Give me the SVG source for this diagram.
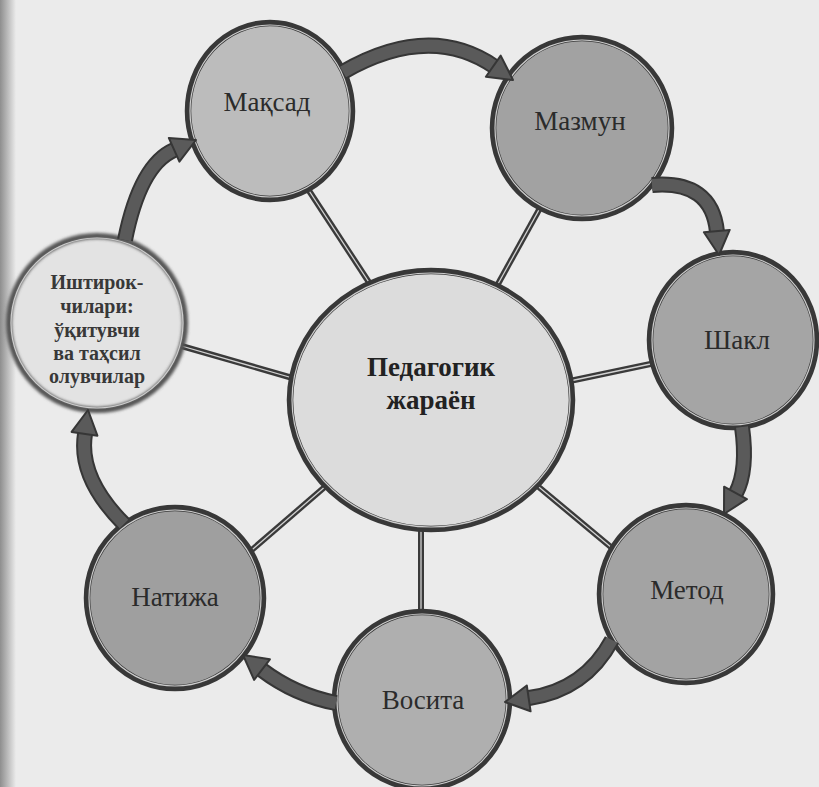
<svg xmlns="http://www.w3.org/2000/svg" width="819" height="787" viewBox="0 0 819 787">
<defs>
<linearGradient id="edge" x1="0" y1="0" x2="1" y2="0">
<stop offset="0" stop-color="#8e8e8e"/>
<stop offset="1" stop-color="#ebebeb"/>
</linearGradient>
<filter id="soft" x="-10%" y="-10%" width="120%" height="120%"><feGaussianBlur stdDeviation="1.6"/></filter>
<style>
.bg{fill:#ebebeb}
.ring{stroke:#383838;stroke-width:6.5}
.ringhi{fill:none;stroke:#cdcdcd;stroke-width:1.2}
.spoke{stroke:#3a3a3a;stroke-width:6;stroke-linecap:butt}
.spokehi{stroke:#d2d2d2;stroke-width:1.3}
.band{fill:none;stroke:#363636;stroke-width:16}
.bandin{fill:none;stroke:#5a5a5a;stroke-width:12}
.head{fill:#5a5a5a;stroke:#363636;stroke-width:2;stroke-linejoin:round}
.lbl{font-family:"Liberation Serif","Times New Roman",serif;font-size:27px;fill:#2b2b2b;text-anchor:middle}
.bold{font-weight:bold;fill:#222}
.small{font-family:"Liberation Serif","Times New Roman",serif;font-size:20px;font-weight:bold;fill:#383838;text-anchor:middle}
</style>
</defs>
<rect class="bg" x="0" y="0" width="819" height="787"/>
<rect x="0" y="0" width="16" height="787" fill="url(#edge)"/>

<g id="connectors">
<g id="spokes">
<line class="spoke" x1="302" y1="180" x2="374" y2="290"/>
<line class="spoke" x1="545" y1="199" x2="493" y2="293"/>
<line class="spoke" x1="565" y1="382" x2="660" y2="362"/>
<line class="spoke" x1="534" y1="483" x2="618" y2="553"/>
<line class="spoke" x1="421" y1="528" x2="421" y2="616"/>
<line class="spoke" x1="327" y1="485" x2="246" y2="555"/>
<line class="spoke" x1="178" y1="345" x2="296" y2="379"/>
<line class="spokehi" x1="302" y1="180" x2="374" y2="290"/>
<line class="spokehi" x1="545" y1="199" x2="493" y2="293"/>
<line class="spokehi" x1="565" y1="382" x2="660" y2="362"/>
<line class="spokehi" x1="534" y1="483" x2="618" y2="553"/>
<line class="spokehi" x1="421" y1="528" x2="421" y2="616"/>
<line class="spokehi" x1="327" y1="485" x2="246" y2="555"/>
<line class="spokehi" x1="178" y1="345" x2="296" y2="379"/>
</g>
</g>

<g id="center">
<ellipse cx="431" cy="400" rx="141" ry="129" fill="#dcdcdc" class="ring"/>
<ellipse class="ringhi" cx="431" cy="400" rx="139" ry="127"/>
<text class="lbl bold" x="431" y="376">Педагогик</text>
<text class="lbl bold" x="431" y="409">жараён</text>
</g>

<g id="maqsad">
<ellipse cx="270" cy="111" rx="82" ry="88" fill="#bcbcbc" class="ring"/>
<ellipse class="ringhi" cx="270" cy="111" rx="80" ry="86"/>
<text class="lbl" x="267" y="111">Мақсад</text>
</g>

<g id="mazmun">
<ellipse cx="582" cy="128" rx="89" ry="90" fill="#a2a2a2" class="ring"/>
<ellipse class="ringhi" cx="582" cy="128" rx="87" ry="88"/>
<text class="lbl" x="580" y="130">Мазмун</text>
</g>

<g id="shakl">
<ellipse cx="733" cy="340" rx="83" ry="87" fill="#a5a5a5" class="ring"/>
<ellipse class="ringhi" cx="733" cy="340" rx="81" ry="85"/>
<text class="lbl" x="737" y="349">Шакл</text>
</g>

<g id="metod">
<ellipse cx="686" cy="594" rx="86" ry="88" fill="#a3a3a3" class="ring"/>
<ellipse class="ringhi" cx="686" cy="594" rx="84" ry="86"/>
<text class="lbl" x="687" y="599">Метод</text>
</g>

<g id="vosita">
<ellipse cx="422" cy="700" rx="87" ry="88" fill="#afafaf" class="ring"/>
<ellipse class="ringhi" cx="422" cy="700" rx="85" ry="86"/>
<text class="lbl" x="423" y="709">Восита</text>
</g>

<g id="natija">
<ellipse cx="175" cy="598" rx="88" ry="90" fill="#9f9f9f" class="ring"/>
<ellipse class="ringhi" cx="175" cy="598" rx="86" ry="88"/>
<text class="lbl" x="175" y="606">Натижа</text>
</g>

<g id="ishtirok">
<ellipse cx="97" cy="323" rx="88" ry="87" fill="#e3e3e3"/>
<ellipse cx="97" cy="323" rx="88" ry="87" fill="none" stroke="#555" stroke-width="6" filter="url(#soft)"/>
<ellipse class="ringhi" cx="97" cy="323" rx="86" ry="85"/>
<text class="small" x="97" y="289">Иштирок-</text>
<text class="small" x="97" y="313">чилари:</text>
<text class="small" x="97" y="337">ўқитувчи</text>
<text class="small" x="97" y="360">ва таҳсил</text>
<text class="small" x="97" y="383">олувчилар</text>
</g>

<g id="arrows">
<path class="band" d="M343,72 Q430,22 495,67"/>
<path class="bandin" d="M343,72 Q430,22 495,67"/>
<polygon class="head" points="485.9,76.8 513,80 500.7,55.6"/>

<path class="band" d="M652,185 Q712,180 717,232"/>
<path class="bandin" d="M652,185 Q712,180 717,232"/>
<polygon class="head" points="703.9,232.3 719,255 729.7,229.9"/>

<path class="band" d="M742,427 Q748,470 736,493"/>
<path class="bandin" d="M742,427 Q748,470 736,493"/>
<polygon class="head" points="724.1,486.7 724,514 746.9,499.1"/>

<path class="band" d="M612,640 Q585,690 529,698"/>
<path class="bandin" d="M612,640 Q585,690 529,698"/>
<polygon class="head" points="526.8,685.5 505,702 530.6,711.3"/>

<path class="band" d="M336,703 Q295,695 262,670"/>
<path class="bandin" d="M336,703 Q295,695 262,670"/>
<polygon class="head" points="269.9,659.3 243,655 254.1,679.9"/>

<path class="band" d="M124,524 Q78,478 85,434"/>
<path class="bandin" d="M124,524 Q78,478 85,434"/>
<polygon class="head" points="97.4,435.7 88,410 71.6,431.9"/>

<path class="band" d="M125,240 Q140,165 174,150"/>
<path class="bandin" d="M125,240 Q140,165 174,150"/>
<polygon class="head" points="179.4,161.7 196,140 168.8,137.9"/>
</g>
</svg>
